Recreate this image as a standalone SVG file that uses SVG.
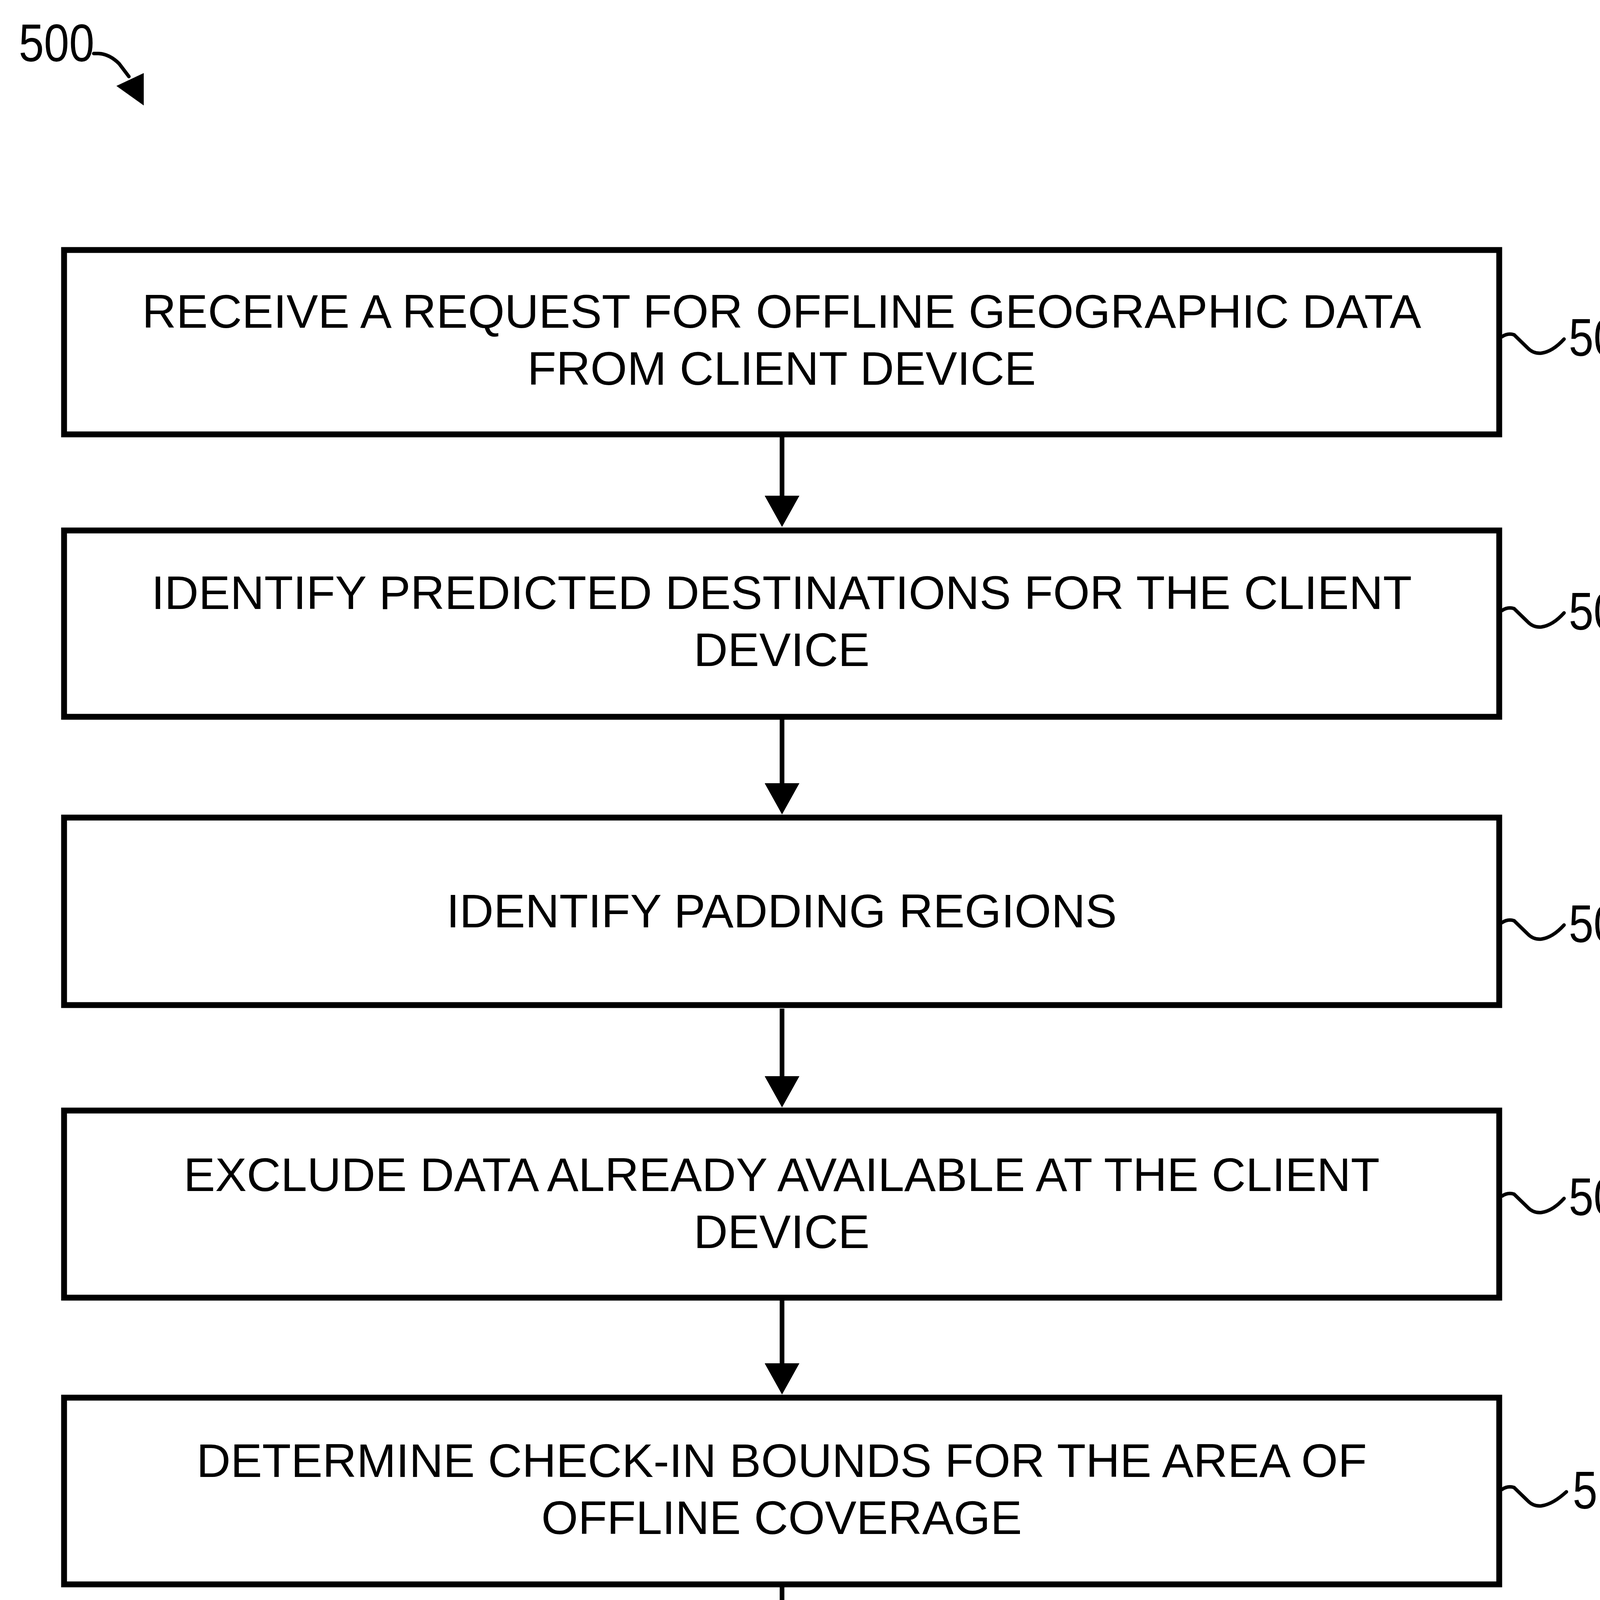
<svg xmlns="http://www.w3.org/2000/svg" width="4236" height="4768" viewBox="0 0 4236 4768">
<style>
.box{fill:#fff;stroke:#000;stroke-width:15}
.t{font-family:"Liberation Sans",Arial,sans-serif;font-size:121px;fill:#000;text-anchor:middle}
.ref{font-family:"Liberation Sans",Arial,sans-serif;font-size:135px;fill:#000}
.sq{fill:none;stroke:#000;stroke-width:9;stroke-linecap:round}
.ar{fill:none;stroke:#000;stroke-width:12}
</style>
<defs>
<marker id="head" markerUnits="userSpaceOnUse" viewBox="0 0 80 89" refX="10" refY="44.5" markerWidth="80" markerHeight="89" orient="auto">
<path d="M0,0 L80,44.5 L0,89 Z" fill="#000"/>
</marker>
</defs>
<rect width="4236" height="4768" fill="#fff"/>
<g id="label500">
<text class="ref" transform="translate(48 157) scale(0.86 1)">500</text>
<path class="sq" d="M240,137 L252,137 C275,138 292,150 305,163 L330,196"/>
<polygon points="298,220 368,187 368,270" fill="#000"/>
</g>
<g id="connectors">
<line class="ar" x1="2002" y1="1112" x2="2002" y2="1279" marker-end="url(#head)"/>
<line class="ar" x1="2002" y1="1835" x2="2002" y2="2015" marker-end="url(#head)"/>
<line class="ar" x1="2002" y1="2582" x2="2002" y2="2765" marker-end="url(#head)"/>
<line class="ar" x1="2002" y1="3322" x2="2002" y2="3500" marker-end="url(#head)"/>
<line class="ar" x1="2002" y1="4056" x2="2002" y2="4235" marker-end="url(#head)"/>
</g>
<g id="n502">
<rect class="box" x="164" y="640" width="3674" height="472"/>
<text class="t" x="2001" y="839">RECEIVE A REQUEST FOR OFFLINE GEOGRAPHIC DATA</text>
<text class="t" x="2001" y="985">FROM CLIENT DEVICE</text>
<path class="sq" d="M3845,862 q15,-10 31,-5 l34,33 q15,16 36,14 q29,-4 58,-36"/>
<text class="ref" transform="translate(4016 911) scale(0.845 1)">502</text>
</g>
<g id="n504">
<rect class="box" x="164" y="1358" width="3674" height="477"/>
<text class="t" x="2001" y="1559">IDENTIFY PREDICTED DESTINATIONS FOR THE CLIENT</text>
<text class="t" x="2001" y="1705">DEVICE</text>
<path class="sq" d="M3845,1563 q15,-10 31,-5 l34,33 q15,16 36,14 q29,-4 58,-36"/>
<text class="ref" transform="translate(4016 1612) scale(0.845 1)">504</text>
</g>
<g id="n506">
<rect class="box" x="164" y="2093" width="3674" height="480"/>
<text class="t" x="2001" y="2374">IDENTIFY PADDING REGIONS</text>
<path class="sq" d="M3845,2362 q15,-10 31,-5 l34,33 q15,16 36,14 q29,-4 58,-36"/>
<text class="ref" transform="translate(4016 2412) scale(0.845 1)">506</text>
</g>
<g id="n508">
<rect class="box" x="164" y="2843" width="3674" height="479"/>
<text class="t" x="2001" y="3049">EXCLUDE DATA ALREADY AVAILABLE AT THE CLIENT</text>
<text class="t" x="2001" y="3195">DEVICE</text>
<path class="sq" d="M3845,3062 q15,-10 31,-5 l34,33 q15,16 36,14 q29,-4 58,-36"/>
<text class="ref" transform="translate(4016 3111) scale(0.845 1)">508</text>
</g>
<g id="n510">
<rect class="box" x="164" y="3578" width="3674" height="478"/>
<text class="t" x="2001" y="3781">DETERMINE CHECK-IN BOUNDS FOR THE AREA OF</text>
<text class="t" x="2001" y="3927">OFFLINE COVERAGE</text>
<path class="sq" d="M3845,3813 q15,-10 31,-5 l34,33 q15,16 36,14 q29,-4 64,-36"/>
<text class="ref" transform="translate(4026 3862) scale(0.845 1)">510</text>
</g>
<g id="n512">
<rect class="box" x="164" y="4313" width="3674" height="500"/>
<text class="t" x="2001" y="4517">PROVIDE GEOGRAPHIC DATA AND THE CHECK-IN BOUNDS</text>
<text class="t" x="2001" y="4663">TO THE CLIENT DEVICE</text>
<path class="sq" d="M3845,4542 q15,-14 31,-10 l40,40 q15,14 36,12 q29,-4 64,-40"/>
<text class="ref" transform="translate(4028 4590) scale(0.845 1)">512</text>
</g>
</svg>
